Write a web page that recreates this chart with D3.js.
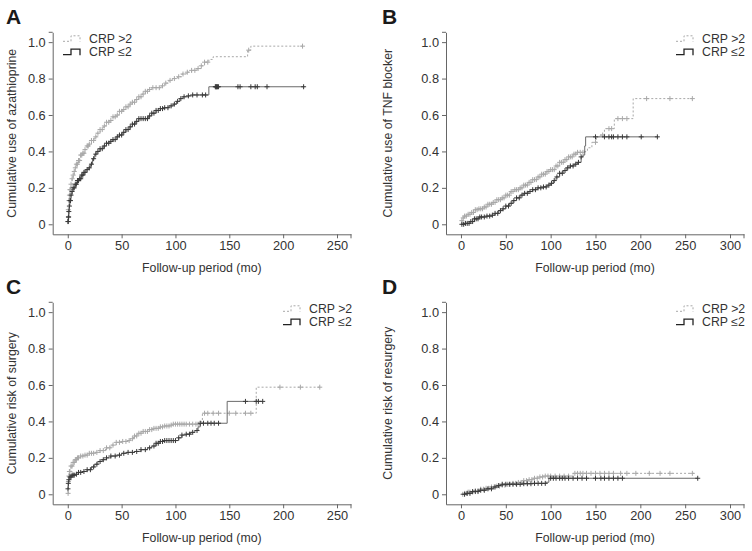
<!DOCTYPE html>
<html><head><meta charset="utf-8">
<script src="https://cdn.jsdelivr.net/npm/d3@7"></script>
<style>body{margin:0;background:#fff} svg{display:block} text{font-family:"Liberation Sans",Arial,Helvetica,sans-serif}</style>
</head><body><svg id="c" width="752" height="551"></svg>
<script>
const xTicksAC = [0, 50, 100, 150, 200, 250];
const xTicksBD = [0, 50, 100, 150, 200, 250, 300];
const yTicks = [0, 0.2, 0.4, 0.6, 0.8, 1.0];
const seriesNames = ["CRP >2", "CRP \u22642"];
const panelLetters = ["A", "B", "C", "D"];
const yTitles = ["Cumulative use of azathioprine", "Cumulative use of TNF blocker", "Cumulative risk of surgery", "Cumulative risk of resurgery"];
const xTitle = "Follow-up period (mo)";

// Panel A – CRP >2
const aHighT = [0,0.5,1,1.5,2,3,4,5,6,7,8,10,12,14,16,18,20,22,25,27,30,33,36,39,42,45,48,51,54,57,60,63,66,69,72,75,78,87,90,94,97,102,106,110,115,120,124,127,131,135,167,170];
const aHighV = [0.02,0.08,0.13,0.16,0.19,0.22,0.25,0.27,0.29,0.31,0.33,0.35,0.38,0.39,0.41,0.43,0.44,0.46,0.48,0.50,0.52,0.54,0.56,0.57,0.59,0.60,0.62,0.63,0.645,0.66,0.67,0.685,0.70,0.715,0.73,0.74,0.75,0.76,0.775,0.79,0.80,0.81,0.825,0.835,0.845,0.855,0.87,0.89,0.905,0.92,0.956,0.978];
const aHighEnd = 218;
const aHighCens = [0.5,1,1.5,2,2.5,3,4,5,6,7,8,9,10,11,12,13,14,15,16,18,19,20,22,24,26,28,30,32,34,36,38,40,42,44,46,48,50,52,54,56,58,60,62,64,66,68,70,72,74,76,79,82,85,88,91,95,99,103,107,111,115,118,121,124,127,130,168,218];
// Panel A – CRP <=2
const aLowT = [0,0.5,1,1.5,2,3,4,5,7,9,11,13,15,17,19,21,23,25,27,30,33,36,39,42,45,48,51,54,57,60,63,66,75,78,82,86,90,94,98,101,104,107,112,116,131];
const aLowV = [0.015,0.04,0.07,0.10,0.13,0.16,0.18,0.20,0.22,0.24,0.25,0.27,0.285,0.30,0.31,0.33,0.36,0.385,0.40,0.415,0.43,0.445,0.455,0.465,0.48,0.49,0.505,0.52,0.535,0.55,0.565,0.58,0.595,0.61,0.625,0.635,0.64,0.65,0.66,0.675,0.69,0.70,0.705,0.71,0.755];
const aLowEnd = 220;
const aLowCens = [0.2,0.4,0.6,0.8,1,1.5,2,2.5,3,4,5,6,7,8,9,10,11,12,13,14,15,16,18,20,22,24,26,28,30,32,34,36,38,40,42,44,46,48,50,52,54,56,58,60,62,64,66,68,70,72,74,76,78,80,82,84,86,88,90,93,96,99,102,105,108,112,116,120,125,128,137,137.5,138,138.5,139,140,158,160,170,174,176,185,219];

// Panel B – CRP >2
const bHighT = [0,1,2,4,8,12,16,20,25,30,35,40,45,50,55,60,65,70,75,80,85,90,95,100,105,110,115,120,125,130,137,141,146,151,155,160,171,192];
const bHighV = [0,0.02,0.035,0.045,0.055,0.065,0.08,0.085,0.095,0.11,0.12,0.135,0.145,0.16,0.18,0.19,0.20,0.215,0.23,0.245,0.26,0.275,0.29,0.30,0.32,0.34,0.355,0.37,0.385,0.395,0.40,0.42,0.45,0.48,0.49,0.525,0.58,0.69];
const bHighEnd = 258;
const bHighCens = [1,2.5,4,6,8,10,12,14,16,18,20,22,24,26,28,30,32,34,36,38,40,42,44,46,48,50,52,54,56,58,60,62,64,66,68,70,72,74,76,78,80,82,84,86,88,90,92,94,96,98,100,102,104,106,108,110,112,114,116,118,120,122,124,126,128,130,133,136,150,158,165,168,175,180,185,207,233,258];
// Panel B – CRP <=2
const bLowT = [0,5,10,15,20,28,35,38,42,46,50,54,58,62,66,70,75,80,85,92,96,100,103,106,110,114,118,122,126,130,134,136,138,139];
const bLowV = [0,0.005,0.015,0.03,0.04,0.045,0.05,0.06,0.075,0.085,0.10,0.115,0.13,0.145,0.16,0.17,0.18,0.19,0.20,0.205,0.215,0.225,0.24,0.26,0.28,0.295,0.31,0.32,0.33,0.34,0.37,0.38,0.43,0.48];
const bLowEnd = 220;
const bLowCens = [1,3,5,7,9,11,13,15,17,19,21,23,26,29,32,35,38,41,44,47,50,53,56,59,62,65,68,71,74,77,80,83,86,89,92,95,98,101,104,107,110,113,116,119,122,125,128,131,134,150,160,165,168,170,175,180,185,201,219];

// Panel C – CRP >2
const cHighT = [0,0.5,1,1.5,3,5,7,9,12,15,20,25,30,35,40,45,50,55,58,61,65,70,75,80,85,90,95,98,122,125,175];
const cHighV = [0.005,0.07,0.10,0.125,0.155,0.175,0.19,0.20,0.21,0.215,0.225,0.23,0.24,0.255,0.27,0.285,0.29,0.295,0.305,0.32,0.335,0.345,0.355,0.362,0.37,0.375,0.38,0.385,0.40,0.445,0.588];
const cHighEnd = 234;
const cHighCens = [0.3,0.6,1,1.5,2,3,4,5,6,7,8,9,10,12,14,16,18,20,22,24,27,30,33,36,39,42,45,48,51,54,57,60,62,64,66,68,70,72,74,76,78,80,82,84,86,88,90,92,94,96,98,100,102,104,106,108,110,113,116,119,121,127,130,135,140,150,156,165,170,197,216,234];
// Panel C – CRP <=2
const cLowT = [0,0.5,1,2,4,7,10,14,18,22,25,28,32,36,40,45,50,55,62,68,74,78,82,85,90,103,106,110,114,118,121,123,148];
const cLowV = [0.03,0.06,0.08,0.095,0.105,0.11,0.12,0.125,0.135,0.15,0.165,0.18,0.19,0.20,0.21,0.215,0.225,0.23,0.235,0.245,0.255,0.265,0.28,0.29,0.295,0.31,0.325,0.33,0.34,0.35,0.37,0.39,0.51];
const cLowEnd = 181;
const cLowCens = [0.2,0.5,1,2,3,4,5,6,8,10,12,15,18,21,24,27,30,33,36,40,44,48,52,56,60,64,68,72,76,80,82,84,86,88,90,92,94,96,98,100,103,106,110,113,116,120,123,126,130,133,136,140,165,175,177,181];

// Panel D – CRP >2
const dHighT = [0,3,8,14,20,26,32,38,44,50,56,62,68,74,80,86,92,125];
const dHighV = [0,0.005,0.012,0.02,0.028,0.033,0.04,0.045,0.05,0.055,0.06,0.065,0.075,0.08,0.088,0.095,0.10,0.115];
const dHighEnd = 262;
const dHighCens = [2,4,6,8,10,13,16,19,22,25,28,31,34,37,40,43,46,49,52,55,58,61,64,67,70,73,76,79,82,85,88,91,94,97,100,105,110,115,120,127,130,133,136,140,145,150,155,160,165,170,178,185,195,210,222,233,258];
// Panel D – CRP <=2
const dLowT = [0,5,12,20,28,36,42,46,70,80,95,98];
const dLowV = [0,0.005,0.015,0.022,0.03,0.04,0.048,0.055,0.058,0.06,0.066,0.088];
const dLowEnd = 264;
const dLowCens = [4,7,10,13,16,19,22,26,30,34,38,42,46,50,54,58,62,66,70,74,78,82,86,90,94,100,103,106,110,113,116,120,125,130,135,140,150,156,160,165,170,175,180,264];

const svg = d3.select("#c");
const axisCol = "#666", textCol = "#333";
const hiCol = "#a8a8a8", loCol = "#3a3a3a", loLine = "#6a6a6a";

const layouts = [
  {xr:[52.7,351], yr:[234.3,32.3], xd:[-14,263], ticks:xTicksAC, leg:"left", ox:0, oy:0,
   s:[[aHighT,aHighV,aHighEnd,aHighCens],[aLowT,aLowV,aLowEnd,aLowCens]]},
  {xr:[446,744], yr:[234.3,32.3], xd:[-16.7,315.6], ticks:xTicksBD, leg:"right", ox:376, oy:0,
   s:[[bHighT,bHighV,bHighEnd,bHighCens],[bLowT,bLowV,bLowEnd,bLowCens]]},
  {xr:[52.7,351], yr:[504.3,302.3], xd:[-14,263], ticks:xTicksAC, leg:"right", ox:0, oy:270,
   s:[[cHighT,cHighV,cHighEnd,cHighCens],[cLowT,cLowV,cLowEnd,cLowCens]]},
  {xr:[446,744], yr:[504.3,302.3], xd:[-16.7,315.6], ticks:xTicksBD, leg:"right", ox:376, oy:270,
   s:[[dHighT,dHighV,dHighEnd,dHighCens],[dLowT,dLowV,dLowEnd,dLowCens]]}
];

const plus = "M-2.5,0H2.5M0,-2.5V2.5";

layouts.forEach((L, i) => {
  const g = svg.append("g");
  const x = d3.scaleLinear().domain(L.xd).range(L.xr);
  const y = d3.scaleLinear().domain([-0.055,1.054]).range(L.yr);

  const xa = g.append("g").attr("transform",`translate(0,${L.yr[0]})`)
    .call(d3.axisBottom(x).tickValues(L.ticks).tickSize(4).tickSizeOuter(0).tickPadding(3));
  const ya = g.append("g").attr("transform",`translate(${L.xr[0]},0)`)
    .call(d3.axisLeft(y).tickValues(yTicks).tickSize(4).tickSizeOuter(0).tickPadding(3)
      .tickFormat(d => d === 0 ? "0" : d3.format(".1f")(d)));
  [xa, ya].forEach(a => {
    a.selectAll("path,line").attr("stroke", axisCol).attr("stroke-width", 1);
    a.selectAll("text").attr("fill", textCol).style("font-size","12.8px")
     .style("font-family",'"Liberation Sans",Arial,sans-serif');
  });
  g.append("path").attr("d",`M${L.xr[0]-4},${L.yr[1]}H${L.xr[0]}M${L.xr[1]},${L.yr[0]}v4`)
    .attr("stroke",axisCol).attr("fill","none");

  g.append("text").attr("x",(L.xr[0]+L.xr[1])/2).attr("y",L.yr[0]+38)
    .attr("text-anchor","middle").attr("fill",textCol).style("font-size","12.3px").text(xTitle);
  const ty = (y(0)+y(1))/2;
  g.append("text").attr("transform",`translate(${L.ox+16},${ty}) rotate(-90)`)
    .attr("text-anchor","middle").attr("fill",textCol).style("font-size","12.3px").text(yTitles[i]);
  g.append("text").attr("x",L.ox+6).attr("y",L.oy+23.5)
    .attr("fill","#1a1a1a").style("font-size","21px").style("font-weight","bold")
    .style("font-family",'"Liberation Sans Narrow","Liberation Sans",Arial,sans-serif')
    .text(panelLetters[i]);

  const line = d3.line().x(d => x(d[0])).y(d => y(d[1])).curve(d3.curveStepAfter);
  L.s.forEach((S, k) => {
    const [T, V, end, C] = S;
    const pts = T.map((t, j) => [t, V[j]]);
    pts.push([end, V[V.length-1]]);
    g.append("path").attr("d", line(pts)).attr("fill","none")
      .attr("stroke", k === 0 ? hiCol : loLine).attr("stroke-width", 1)
      .attr("stroke-dasharray", k === 0 ? "2,2" : null);
    const bis = d3.bisector(d => d).right;
    g.append("g").selectAll("path").data(C).join("path")
      .attr("transform", c => `translate(${x(c)},${y(V[Math.max(0,bis(T,c)-1)])})`)
      .attr("d", plus).attr("stroke", k === 0 ? hiCol : loCol).attr("stroke-width", 1).attr("fill","none");
  });

  const sx = L.leg === "left" ? L.xr[0] + 10.3 : L.xr[1] - 68;
  seriesNames.forEach((nm, k) => {
    const ry = L.yr[1] + 6 + k*13.4;
    g.append("path")
      .attr("d", `M${sx},${ry+3}H${sx+8}V${ry-2.5}H${sx+17}V${ry+3.5}`)
      .attr("fill","none").attr("stroke", k === 0 ? hiCol : "#222").attr("stroke-width", k===0?1:1.3)
      .attr("stroke-dasharray", k === 0 ? "2,2" : null);
    g.append("text").attr("x", sx + 26).attr("y", ry).attr("dy","0.36em")
      .attr("fill", textCol).style("font-size","12.3px").text(nm);
  });
});
</script></body></html>
